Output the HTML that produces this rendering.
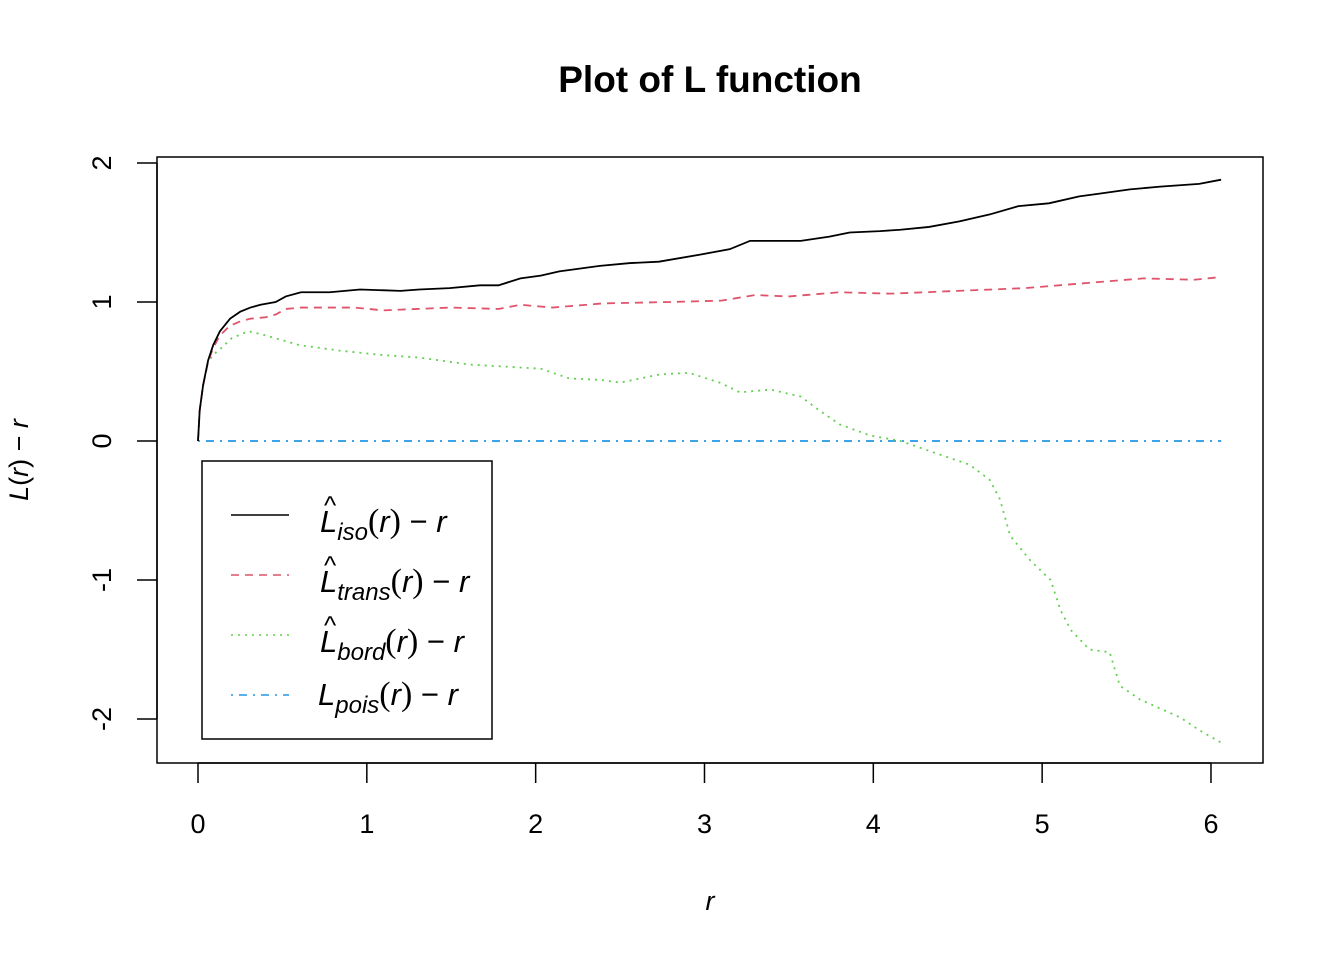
<!DOCTYPE html>
<html><head><meta charset="utf-8"><style>
body{margin:0;background:#fff}
svg{display:block;font-family:"Liberation Sans",Arial,sans-serif}
</style></head><body>
<svg id="chart" width="1344" height="960" viewBox="0 0 1344 960">
<text x="710" y="92" text-anchor="middle" font-size="37" font-weight="bold">Plot of L function</text>
<rect x="157" y="157" width="1106" height="606" fill="none" stroke="#000" stroke-width="1.5"/>
<g id="xaxis"></g>
<g id="yaxis"></g>
<g id="series"></g>
<text x="710" y="910" text-anchor="middle" font-size="27" font-style="italic">r</text>
<text transform="translate(28,460) rotate(-90)" text-anchor="middle" font-size="27"><tspan font-style="italic">L</tspan>(<tspan font-style="italic">r</tspan>) − <tspan font-style="italic">r</tspan></text>
<g>
<rect x="202" y="461" width="290" height="278" fill="#fff" stroke="#000" stroke-width="1.5"/>
<line x1="231" y1="515" x2="289" y2="515" stroke="#000" stroke-width="1.5"/>
<line x1="231" y1="575" x2="289" y2="575" stroke="#DF536B" stroke-width="1.5" stroke-dasharray="8,6"/>
<line x1="231" y1="635" x2="289" y2="635" stroke="#61D04F" stroke-width="1.5" stroke-dasharray="2,5"/>
<line x1="231" y1="695" x2="289" y2="695" stroke="#2297E6" stroke-width="1.5" stroke-dasharray="2,6,8,6"/>
<g font-size="31" font-style="italic">
<text x="320" y="532">L<tspan font-size="24" dy="8">iso</tspan><tspan dy="-8" font-style="normal" font-family="'Liberation Serif',serif" font-size="34">(</tspan>r<tspan font-style="normal" font-family="'Liberation Serif',serif" font-size="34">)</tspan><tspan font-style="normal"> − </tspan>r</text>
<text x="324" y="514" font-size="26" font-style="normal">^</text>
<text x="320" y="592">L<tspan font-size="24" dy="8">trans</tspan><tspan dy="-8" font-style="normal" font-family="'Liberation Serif',serif" font-size="34">(</tspan>r<tspan font-style="normal" font-family="'Liberation Serif',serif" font-size="34">)</tspan><tspan font-style="normal"> − </tspan>r</text>
<text x="324" y="574" font-size="26" font-style="normal">^</text>
<text x="320" y="652">L<tspan font-size="24" dy="8">bord</tspan><tspan dy="-8" font-style="normal" font-family="'Liberation Serif',serif" font-size="34">(</tspan>r<tspan font-style="normal" font-family="'Liberation Serif',serif" font-size="34">)</tspan><tspan font-style="normal"> − </tspan>r</text>
<text x="324" y="634" font-size="26" font-style="normal">^</text>
<text x="318" y="705">L<tspan font-size="24" dy="8">pois</tspan><tspan dy="-8" font-style="normal" font-family="'Liberation Serif',serif" font-size="34">(</tspan>r<tspan font-style="normal" font-family="'Liberation Serif',serif" font-size="34">)</tspan><tspan font-style="normal"> − </tspan>r</text>
</g>
</g>
</svg>
<script>
const xTicks=[0,1,2,3,4,5,6];
const yTicks=[-2,-1,0,1,2];
const isoR=[0,0.01,0.03,0.06,0.09,0.13,0.19,0.25,0.31,0.37,0.46,0.52,0.61,0.78,0.96,1.2,1.31,1.49,1.67,1.78,1.91,2.03,2.14,2.38,2.56,2.73,2.97,3.15,3.27,3.45,3.57,3.74,3.86,4.04,4.16,4.33,4.51,4.69,4.86,5.04,5.22,5.34,5.52,5.7,5.93,6.06];
const isoV=[0,0.22,0.40,0.58,0.69,0.79,0.88,0.93,0.96,0.98,1.00,1.04,1.07,1.07,1.09,1.08,1.09,1.10,1.12,1.12,1.17,1.19,1.22,1.26,1.28,1.29,1.34,1.38,1.44,1.44,1.44,1.47,1.50,1.51,1.52,1.54,1.58,1.63,1.69,1.71,1.76,1.78,1.81,1.83,1.85,1.88];
const transR=[0,0.01,0.03,0.06,0.09,0.13,0.19,0.25,0.31,0.4,0.46,0.52,0.61,0.78,0.92,1.1,1.3,1.5,1.78,1.91,2.1,2.4,2.8,3.1,3.3,3.5,3.8,4.1,4.5,4.9,5.3,5.6,5.9,6.06];
const transV=[0,0.22,0.40,0.57,0.67,0.76,0.83,0.86,0.88,0.89,0.91,0.95,0.96,0.96,0.96,0.94,0.95,0.96,0.95,0.98,0.96,0.99,1.0,1.01,1.05,1.04,1.07,1.06,1.08,1.10,1.14,1.17,1.16,1.18];
const bordR=[0,0.01,0.03,0.06,0.09,0.13,0.2,0.3,0.4,0.6,0.84,1.08,1.31,1.61,2.03,2.2,2.38,2.5,2.74,2.91,3.09,3.21,3.39,3.57,3.68,3.8,3.98,4.16,4.4,4.57,4.69,4.75,4.81,4.93,5.05,5.11,5.17,5.28,5.4,5.46,5.58,5.82,5.93,6.06];
const bordV=[0,0.22,0.40,0.57,0.62,0.66,0.74,0.79,0.76,0.69,0.65,0.62,0.60,0.55,0.52,0.45,0.44,0.42,0.48,0.49,0.42,0.35,0.37,0.32,0.22,0.12,0.04,0,-0.10,-0.17,-0.28,-0.42,-0.68,-0.86,-1.0,-1.22,-1.36,-1.50,-1.52,-1.76,-1.86,-1.99,-2.08,-2.17];
const poisR=[0,6.06];
const poisV=[0,0];
const NS='http://www.w3.org/2000/svg';
const X=v=>198+v*168.83;
const Y=v=>441-v*139;
function mk(tag,attrs,parent){const e=document.createElementNS(NS,tag);for(const k in attrs)e.setAttribute(k,attrs[k]);parent.appendChild(e);return e;}
const xa=document.getElementById('xaxis');
mk('line',{x1:X(0),x2:X(6),y1:763,y2:763,stroke:'#000','stroke-width':1.5},xa);
xTicks.forEach(t=>{
  const l=mk('line',{x1:X(t),x2:X(t),y1:763,y2:783,stroke:'#000','stroke-width':1.5},xa);
  
  
  const tx=mk('text',{x:X(t),y:833,'text-anchor':'middle','font-size':27},xa);
  tx.textContent=t;
  
  
});
const ya=document.getElementById('yaxis');
mk('line',{x1:157,x2:157,y1:Y(-2),y2:Y(2),stroke:'#000','stroke-width':1.5},ya);
yTicks.forEach(t=>{
  const l=mk('line',{x1:137,x2:157,y1:Y(t),y2:Y(t),stroke:'#000','stroke-width':1.5},ya);
  
  
  const tx=mk('text',{transform:`translate(111,${Y(t)}) rotate(-90)`,'text-anchor':'middle','font-size':27},ya);
  tx.textContent=t;
  
  
});
const sg=document.getElementById('series');
function line(R,V,color,dash,name){
  const p=mk('polyline',{points:R.map((r,i)=>X(r)+','+Y(V[i])).join(' '),fill:'none',stroke:color,'stroke-width':1.8},sg);
  if(dash)p.setAttribute('stroke-dasharray',dash);
  
  
}
line(poisR,poisV,'#2297E6','2,6,8,6','pois-line');
line(bordR,bordV,'#61D04F','2,5','bord-line');
line(transR,transV,'#DF536B','8,6','trans-line');
line(isoR,isoV,'#000',null,'iso-line');
</script>
</body></html>
